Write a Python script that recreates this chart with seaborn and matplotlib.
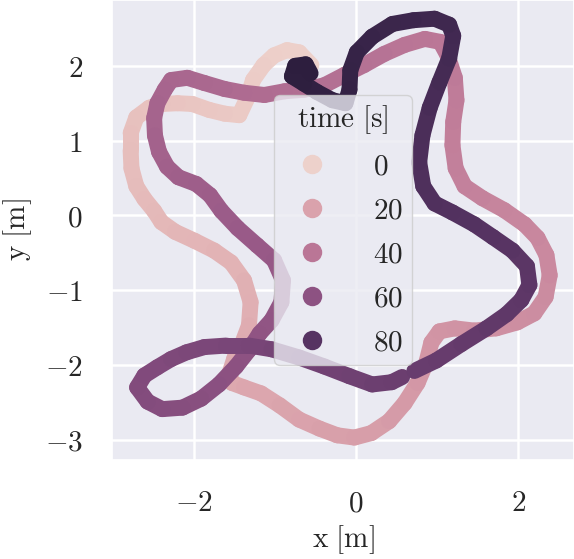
import numpy as np
import pandas as pd
import matplotlib
matplotlib.use('Agg')
import matplotlib.pyplot as plt
from matplotlib.ticker import FuncFormatter
import seaborn as sns

sns.set_theme(style='darkgrid')
plt.rcParams['mathtext.fontset'] = 'cm'
plt.rcParams['grid.linewidth'] = 1.8

# trajectory: position [m] and time [s]
x_m = [-0.55, -0.70, -0.85, -1.01, -1.14, -1.27, -1.34, -1.44, -1.62, -1.81,
       -2.02, -2.20, -2.39, -2.55, -2.71, -2.78, -2.78, -2.77, -2.71, -2.61,
       -2.49, -2.40, -2.23, -1.99, -1.75, -1.54, -1.38, -1.30, -1.32, -1.40,
       -1.50, -1.56, -1.53, -1.38, -1.17, -0.94, -0.70, -0.45, -0.23, -0.02,
       0.19, 0.41, 0.60, 0.76, 0.87, 0.93, 1.03, 1.22, 1.46, 1.73,
       1.99, 2.20, 2.34, 2.39, 2.35, 2.24, 2.08, 1.83, 1.56, 1.34,
       1.23, 1.19, 1.20, 1.24, 1.22, 1.13, 1.04, 0.85, 0.60, 0.35,
       0.10, -0.14, -0.39, -0.64, -0.88, -1.13, -1.38, -1.62, -1.87, -2.08,
       -2.28, -2.36, -2.45, -2.49, -2.48, -2.43, -2.33, -2.19, -1.97, -1.80,
       -1.66, -1.46, -1.22, -1.01, -0.90, -0.92, -1.04, -1.19, -1.32, -1.48,
       -1.69, -1.91, -2.14, -2.39, -2.57, -2.70, -2.61, -2.45, -2.28, -2.09,
       -1.87, -1.60, -1.32, -1.04, -0.70, -0.39, -0.08, 0.20, 0.44, 0.57,
       0.72, 0.99, 1.30, 1.61, 1.86, 2.04, 2.14, 2.11, 1.93, 1.69,
       1.46, 1.19, 0.97, 0.83, 0.78, 0.82, 0.91, 1.03, 1.15, 1.20,
       1.15, 0.97, 0.71, 0.45, 0.20, 0.01, -0.07, -0.08, -0.13, -0.29,
       -0.48, -0.64, -0.79, -0.75, -0.62, -0.56]
y_m = [2.01, 2.18, 2.21, 2.14, 2.01, 1.81, 1.57, 1.34, 1.36, 1.41,
       1.49, 1.50, 1.49, 1.44, 1.31, 1.10, 0.87, 0.63, 0.39, 0.22,
       0.06, -0.09, -0.22, -0.34, -0.47, -0.63, -0.87, -1.16, -1.47, -1.70,
       -1.91, -2.11, -2.24, -2.30, -2.38, -2.54, -2.73, -2.85, -2.94, -2.97,
       -2.91, -2.75, -2.51, -2.24, -1.96, -1.70, -1.55, -1.51, -1.54, -1.51,
       -1.43, -1.31, -1.09, -0.80, -0.53, -0.30, -0.12, 0.07, 0.23, 0.39,
       0.63, 0.94, 1.25, 1.54, 1.84, 2.14, 2.32, 2.36, 2.28, 2.16,
       2.01, 1.88, 1.74, 1.68, 1.66, 1.61, 1.64, 1.69, 1.77, 1.84,
       1.81, 1.68, 1.50, 1.30, 1.07, 0.85, 0.65, 0.51, 0.42, 0.27,
       0.06, -0.17, -0.40, -0.60, -0.87, -1.16, -1.40, -1.58, -1.80, -2.02,
       -2.26, -2.45, -2.57, -2.59, -2.49, -2.30, -2.14, -2.03, -1.92, -1.83,
       -1.76, -1.74, -1.74, -1.79, -1.90, -2.02, -2.15, -2.26, -2.23, -2.16,
       -2.08, -1.94, -1.72, -1.51, -1.32, -1.13, -0.93, -0.68, -0.47, -0.29,
       -0.12, 0.04, 0.16, 0.39, 0.71, 1.07, 1.44, 1.78, 2.10, 2.40,
       2.55, 2.63, 2.61, 2.56, 2.39, 2.18, 1.94, 1.68, 1.50, 1.54,
       1.65, 1.76, 1.86, 2.00, 2.02, 1.90]
t_s = [0.0, 0.6, 0.9, 1.4, 1.9, 2.4, 3.0, 3.6, 4.0, 4.5,
       5.1, 5.6, 6.1, 6.6, 7.1, 7.7, 8.2, 8.8, 9.4, 9.9,
       10.4, 10.9, 11.4, 12.1, 12.8, 13.4, 14.1, 14.9, 15.6, 16.2,
       16.7, 17.2, 17.5, 18.0, 18.5, 19.2, 20.0, 20.7, 21.3, 21.8,
       22.4, 23.1, 23.8, 24.5, 25.3, 25.9, 26.4, 26.8, 27.5, 28.2,
       28.9, 29.5, 30.1, 30.8, 31.4, 32.0, 32.6, 33.3, 34.1, 34.8,
       35.5, 36.2, 36.9, 37.6, 38.3, 39.1, 39.7, 40.1, 40.8, 41.5,
       42.2, 43.0, 43.7, 44.3, 45.0, 45.6, 46.2, 46.9, 47.5, 48.1,
       48.6, 49.1, 49.5, 50.0, 50.5, 51.1, 51.6, 52.2, 52.8, 53.4,
       54.0, 54.7, 55.5, 56.3, 56.9, 57.6, 58.3, 58.9, 59.5, 60.2,
       61.0, 61.7, 62.3, 63.0, 63.5, 64.0, 64.5, 65.0, 65.5, 66.0,
       66.6, 67.3, 68.0, 68.7, 69.6, 70.5, 71.3, 72.1, 72.7, 73.1,
       73.5, 74.3, 75.2, 76.2, 76.9, 77.6, 78.1, 78.7, 79.4, 80.1,
       80.8, 81.6, 82.2, 82.8, 83.6, 84.4, 85.4, 86.3, 87.1, 87.8,
       88.3, 88.8, 89.5, 90.2, 90.9, 91.6, 92.2, 92.9, 93.3, 93.7,
       94.2, 94.7, 95.1, 95.4, 95.7, 96.0]
gaps = [119]  # no data between these samples

# one short piece per pair of samples, coloured by its start time
rows = []
for i in range(len(t_s) - 1):
    if i in gaps:
        continue
    rows.append((x_m[i], y_m[i], t_s[i], i))
    rows.append((x_m[i + 1], y_m[i + 1], t_s[i], i))
segs = pd.DataFrame(rows, columns=['x', 'y', 'time', 'seg'])

fig = plt.figure(figsize=(5.74, 5.59), dpi=100)
ax = fig.add_axes([112 / 574, 99 / 559, 462 / 574, 460 / 559])

sns.lineplot(data=segs, x='x', y='y', hue='time', units='seg', estimator=None,
             sort=False, palette='ch:', linewidth=11.5, legend='brief', ax=ax)
for line in ax.lines:
    line.set_solid_capstyle('round')
    line.set_solid_joinstyle('round')

ax.set_xlim(-3.01, 2.69)
ax.set_ylim(-3.27, 2.88)
ax.set_xticks([-2, 0, 2])
ax.set_yticks([-3, -2, -1, 0, 1, 2])
fmt = FuncFormatter(lambda v, pos: f'${v:g}$')
ax.xaxis.set_major_formatter(fmt)
ax.yaxis.set_major_formatter(fmt)
ax.tick_params(length=0, pad=21, labelsize=21)
ax.set_xlabel(r'$\mathrm{x\ [m]}$', fontsize=21, labelpad=4)
ax.set_ylabel(r'$\mathrm{y\ [m]}$', fontsize=21, labelpad=8)

handles, labels = ax.get_legend_handles_labels()
for h in handles:
    h.set_linestyle('none')
    h.set_marker('o')
    h.set_markersize(14)
    h.set_markeredgewidth(0)
labels = [f'${lab}$' for lab in labels]
ax.legend(handles, labels, title=r'$\mathrm{time\ [s]}$', loc='center',
          fontsize=21, title_fontsize=21, framealpha=0.8, labelspacing=0.55,
          handletextpad=1.1, borderpad=0.3)

fig.savefig('out.png', dpi=100)
